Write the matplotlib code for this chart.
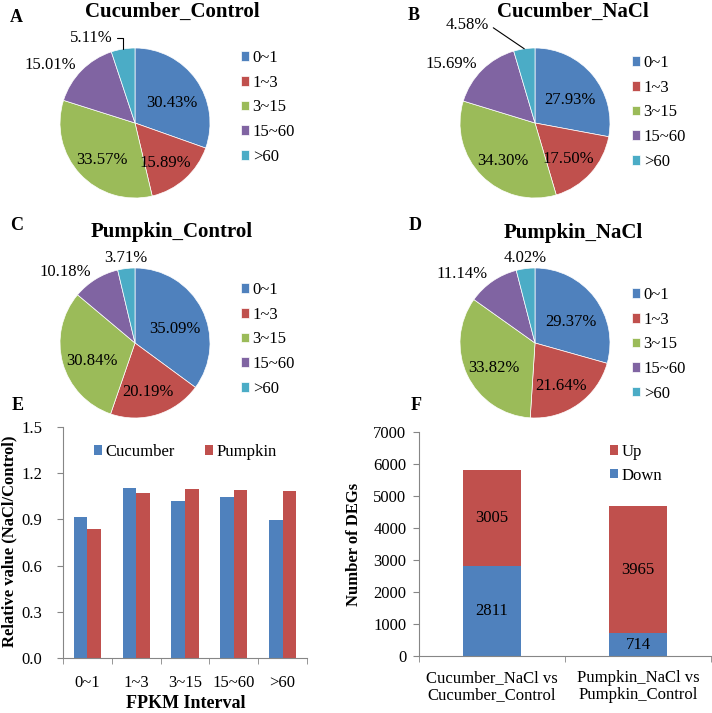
import numpy as np
import matplotlib
matplotlib.use('Agg')
import matplotlib.pyplot as plt

plt.rcParams['font.family'] = 'Liberation Serif'

# FPKM intervals and pie shares (%)
intervals = ['0~1', '1~3', '3~15', '15~60', '>60']
colors = ['#4F81BD', '#C0504D', '#9BBB59', '#8064A2', '#4BACC6']
cuc_control = [30.43, 15.89, 33.57, 15.01, 5.11]
cuc_nacl = [27.93, 17.50, 34.30, 15.69, 4.58]
pum_control = [35.09, 20.19, 30.84, 10.18, 3.71]
pum_nacl = [29.37, 21.64, 33.82, 11.14, 4.02]

# relative value NaCl/Control
rel_cucumber = [0.918, 1.101, 1.022, 1.045, 0.896]
rel_pumpkin = [0.837, 1.072, 1.097, 1.094, 1.084]

# DEG counts
deg_groups = ['Cucumber_NaCl vs\nCucumber_Control', 'Pumpkin_NaCl vs\nPumpkin_Control']
deg_down = [2811, 714]
deg_up = [3005, 3965]

W, H = 712, 713
fig = plt.figure(figsize=(W / 100, H / 100), dpi=100)


def rect(x0, y0, x1, y1):
    # pixel box (top-left origin) -> figure fraction
    return [x0 / W, 1 - y1 / H, (x1 - x0) / W, (y1 - y0) / H]


def fpx(x, y):
    return (x / W, 1 - y / H)


def draw_pie(cx, cy, vals, title, tx, ty, letter, lx, ly, purple_r, cyan, leg_xy):
    R, k = 75, 1.6
    ax = fig.add_axes(rect(cx - R * k, cy - R * k, cx + R * k, cy + R * k))
    wedges, _ = ax.pie(vals, colors=colors, startangle=90, counterclock=False,
                       wedgeprops=dict(edgecolor='white', linewidth=0.5))
    ax.set_xlim(-k, k)
    ax.set_ylim(-k, k)
    ax.set_aspect('equal')
    ax.axis('off')
    for i, w in enumerate(wedges):
        mid = np.deg2rad((w.theta1 + w.theta2) / 2)
        lab = f'{vals[i]:.2f}%'
        if i < 3:
            # labels sit a bit flatter than the true mid angle
            ax.text(0.6 * np.cos(mid), 0.6 * np.sin(mid) - 0.08, lab, ha='center',
                    va='center', fontsize=12)
        elif i == 3:
            ax.text(purple_r * np.cos(mid), purple_r * np.sin(mid), lab,
                    ha='right', va='center', fontsize=12)
        else:
            ang = np.deg2rad(cyan['ang']) if cyan['ang'] is not None else mid
            pos = (cyan['r'] * np.cos(ang), cyan['r'] * np.sin(ang))
            if cyan['leader'] is None:
                ax.text(pos[0], pos[1], lab, ha=cyan['ha'], va=cyan['va'], fontsize=12)
            else:
                edge = (np.cos(mid), np.sin(mid))
                ax.annotate(lab, xy=edge, xytext=pos, ha=cyan['ha'], va=cyan['va'],
                            fontsize=12,
                            arrowprops=dict(arrowstyle='-', lw=0.8, color='black',
                                            shrinkA=1, shrinkB=0, relpos=(1, 0.5),
                                            connectionstyle=cyan['leader']))
    fig.text(*fpx(tx, ty), title, ha='center', va='center', fontsize=15, fontweight='bold')
    fig.text(*fpx(lx, ly), letter, ha='center', va='center', fontsize=13, fontweight='bold')
    ax.legend(wedges, intervals, loc='upper left', bbox_to_anchor=fpx(*leg_xy),
              bbox_transform=fig.transFigure, frameon=False, fontsize=12,
              handlelength=0.5, handleheight=0.5, handletextpad=0.2,
              labelspacing=0.52, borderpad=0, borderaxespad=0)


draw_pie(135, 123, cuc_control, 'Cucumber_Control', 172, 12, 'A', 16, 17, 1.1,
         dict(ang=104.5, r=1.17, ha='right', va='center',
              leader='angle,angleA=0,angleB=90,rad=0'), (241, 50))
draw_pie(535, 123, cuc_nacl, 'Cucumber_NaCl', 573, 12, 'B', 414, 15, 1.1,
         dict(ang=115, r=1.44, ha='right', va='center', leader='arc3'), (632, 55))
draw_pie(135, 343, pum_control, 'Pumpkin_Control', 172, 232, 'C', 17, 225, 1.12,
         dict(ang=None, r=1.04, ha='center', va='bottom', leader=None), (241, 282))
draw_pie(535, 343, pum_nacl, 'Pumpkin_NaCl', 573, 233, 'D', 415, 225, 1.12,
         dict(ang=None, r=1.04, ha='center', va='bottom', leader=None), (632, 287))

spine_c = '#868686'

# panel E
axE = fig.add_axes(rect(63, 427, 307, 658))
x = np.arange(len(intervals))
axE.bar(x - 0.14, rel_cucumber, 0.28, color=colors[0], label='Cucumber')
axE.bar(x + 0.14, rel_pumpkin, 0.28, color=colors[1], label='Pumpkin')
axE.set_xlim(-0.5, 4.5)
axE.set_ylim(0, 1.5)
axE.set_yticks(np.arange(0, 1.51, 0.3))
axE.set_yticklabels([f'{v:.1f}' for v in np.arange(0, 1.51, 0.3)])
axE.set_xticks(x)
axE.set_xticklabels(intervals)
axE.set_xticks(np.arange(-0.5, 5, 1), minor=True)
axE.tick_params(axis='x', which='major', length=0, pad=12, labelsize=12)
axE.tick_params(axis='x', which='minor', length=4, color=spine_c)
axE.tick_params(axis='y', length=4, color=spine_c, pad=11, labelsize=12)
for s in ['top', 'right']:
    axE.spines[s].set_visible(False)
for s in ['left', 'bottom']:
    axE.spines[s].set_color(spine_c)
axE.legend(loc='upper left', bbox_to_anchor=fpx(94, 444), bbox_transform=fig.transFigure,
           ncol=2, frameon=False, fontsize=12, handlelength=0.5, handleheight=0.5,
           handletextpad=0.2, columnspacing=1.8, borderpad=0, borderaxespad=0)
fig.text(*fpx(9, 541), 'Relative value (NaCl/Control)', rotation=90, ha='center',
         va='center', fontsize=12, fontweight='bold')
fig.text(*fpx(186, 703), 'FPKM Interval', ha='center', va='center', fontsize=13,
         fontweight='bold')
fig.text(*fpx(18, 405), 'E', ha='center', va='center', fontsize=13, fontweight='bold')

# panel F
axF = fig.add_axes(rect(419, 432, 711, 656))
xg = np.arange(len(deg_groups))
bd = axF.bar(xg, deg_down, 0.4, color=colors[0], label='Down')
bu = axF.bar(xg, deg_up, 0.4, bottom=deg_down, color=colors[1], label='Up')
for i in range(len(deg_groups)):
    axF.text(xg[i], deg_down[i] / 2, str(deg_down[i]), ha='center', va='center', fontsize=12)
    axF.text(xg[i], deg_down[i] + deg_up[i] / 2, str(deg_up[i]), ha='center',
             va='center', fontsize=12)
axF.set_xlim(-0.5, 1.5)
axF.set_ylim(0, 7000)
axF.set_yticks(np.arange(0, 7001, 1000))
axF.set_xticks(xg)
axF.set_xticklabels(deg_groups, linespacing=1.1)
axF.set_xticks(np.arange(-0.5, 2, 1), minor=True)
axF.tick_params(axis='x', which='major', length=0, pad=10, labelsize=12)
axF.tick_params(axis='x', which='minor', length=4, color=spine_c)
axF.tick_params(axis='y', length=4, color=spine_c, pad=5, labelsize=12)
for s in ['top', 'right']:
    axF.spines[s].set_visible(False)
for s in ['left', 'bottom']:
    axF.spines[s].set_color(spine_c)
axF.legend([bu, bd], ['Up', 'Down'], loc='upper left', bbox_to_anchor=fpx(610, 444),
           bbox_transform=fig.transFigure, frameon=False, fontsize=12,
           handlelength=0.5, handleheight=0.5, handletextpad=0.2, labelspacing=0.45,
           borderpad=0, borderaxespad=0)
fig.text(*fpx(354, 544), 'Number of DEGs', rotation=90, ha='center', va='center',
         fontsize=12, fontweight='bold')
fig.text(*fpx(416, 405), 'F', ha='center', va='center', fontsize=13, fontweight='bold')

fig.savefig('out.png', dpi=100)
